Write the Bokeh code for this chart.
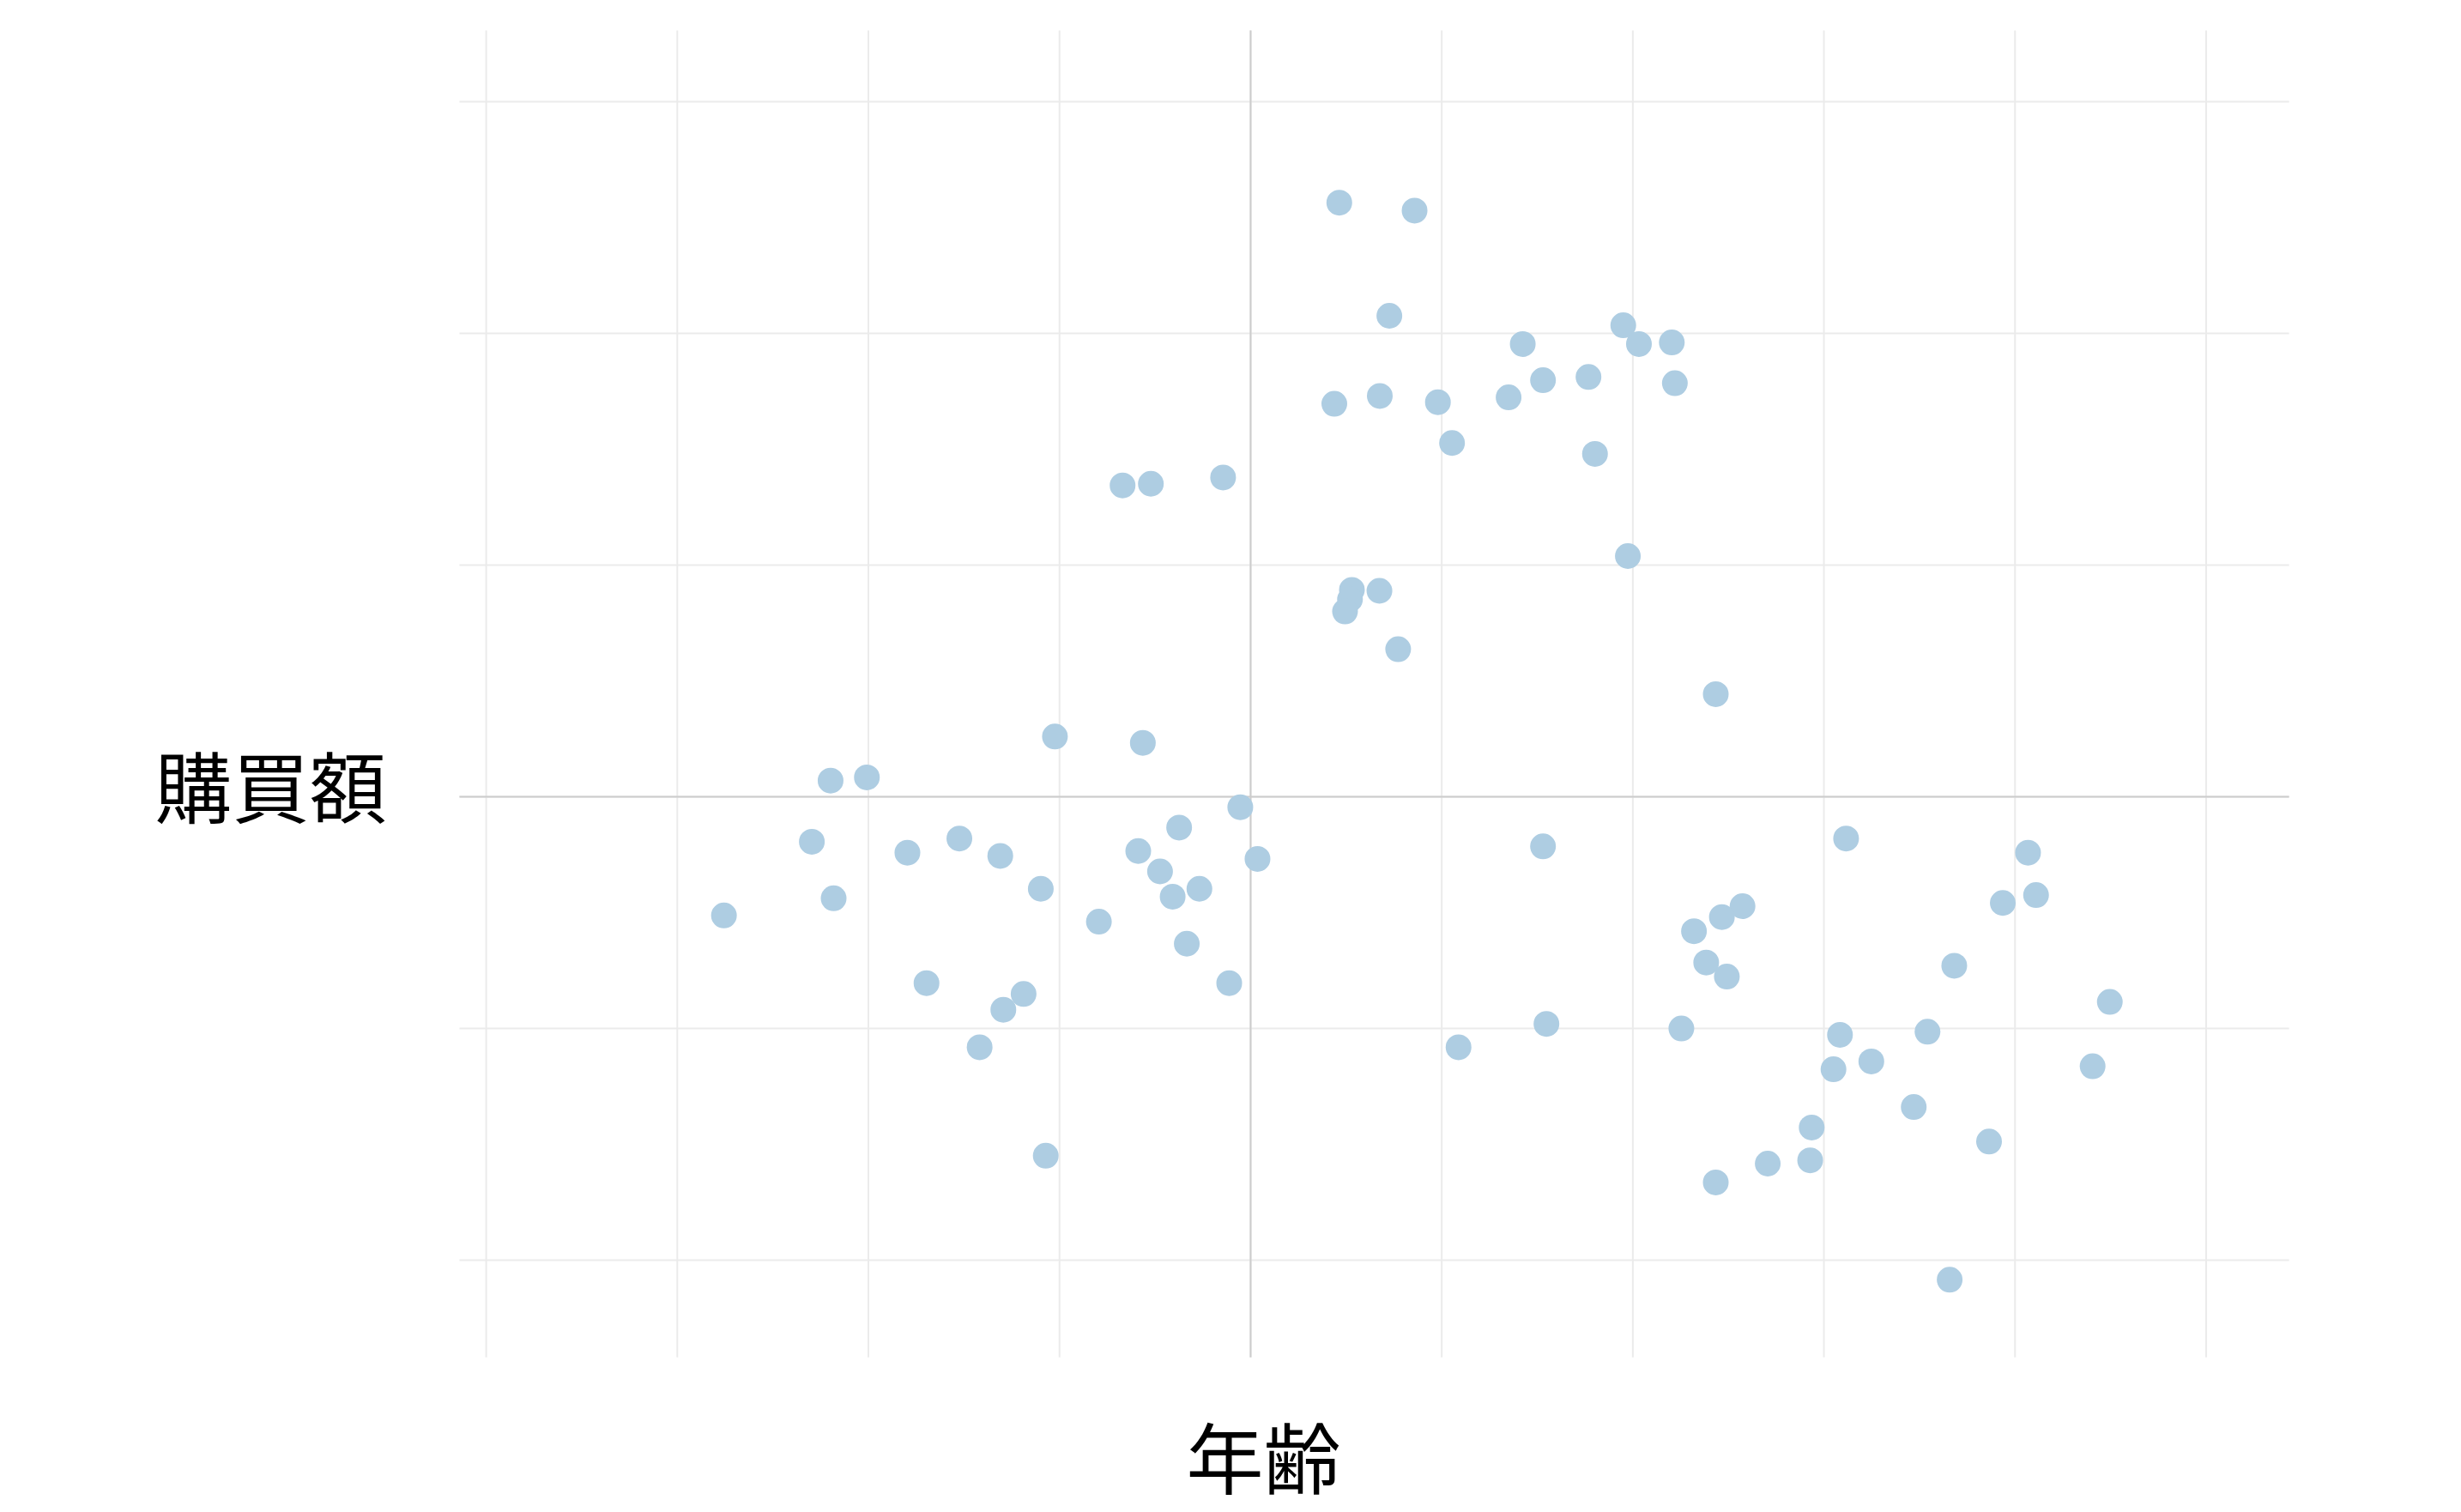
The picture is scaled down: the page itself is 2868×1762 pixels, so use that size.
from bokeh.plotting import figure
from bokeh.models import Range1d
from bokeh.core.properties import value
from bokeh.embed import file_html
from bokeh.resources import INLINE

# standardized age (x) and purchase amount (y)
age = [0.232, 0.429, 0.363, 0.712, 0.975, 1.016, 1.102, 0.765, 0.884, 1.110,
       0.219, 0.338, 0.490, 0.675, 0.527, 0.901, -0.335, -0.261, -0.072, 0.987,
       0.265, 0.260, 0.247, 0.337, 0.386, 1.217, -0.512, -0.282, -1.099, -1.004,
       -0.027, -0.187, -1.148, -0.762, -0.898, -0.655, -0.294, 0.018, -0.237, 0.765,
       1.558, 2.034, -0.549, -0.134, -0.204, -1.091, -1.378, -0.397, 1.287, 1.233,
       1.160, 1.968, 2.055, -0.167, 1.192, 1.246, 1.841, -0.848, -0.056, -0.594,
       -0.647, 2.248, 0.774, 1.127, 1.542, 1.771, -0.709, 0.544, 1.525, 1.624,
       2.203, 1.735, 1.468, 1.932, -0.536, 1.464, 1.353, 1.217, 1.829]
spend = [2.564, 2.530, 2.076, 1.954, 2.035, 1.954, 1.961, 1.798, 1.812, 1.785,
         1.696, 1.730, 1.703, 1.724, 1.527, 1.480, 1.344, 1.351, 1.378, 1.039,
         0.893, 0.852, 0.800, 0.889, 0.637, 0.443, 0.260, 0.233, 0.070, 0.084,
         -0.045, -0.133, -0.194, -0.180, -0.241, -0.255, -0.234, -0.268, -0.322, -0.214,
         -0.180, -0.241, -0.397, -0.397, -0.431, -0.438, -0.512, -0.539, -0.472, -0.519,
         -0.580, -0.458, -0.424, -0.634, -0.715, -0.776, -0.729, -0.804, -0.804, -0.851,
         -0.919, -0.885, -0.980, -1.000, -1.027, -1.014, -1.081, -1.081, -1.176, -1.142,
         -1.163, -1.339, -1.427, -1.488, -1.549, -1.569, -1.583, -1.664, -2.084]

x_ticks = [-2.0, -1.5, -1.0, -0.5, 0.0, 0.5, 1.0, 1.5, 2.0, 2.5]
y_ticks = [-2, -1, 0, 1, 2, 3]
x_label = "年齢"
y_label = "購買額"

# panel limits (data units)
X0, X1 = -2.070, 2.717
Y0, Y1 = -2.419, 3.307

p = figure(width=2860, height=1760, output_backend="svg", toolbar_location=None,
           x_range=Range1d(-3.271, 3.150), y_range=Range1d(-3.081, 3.437),
           min_border=0)
p.xaxis.visible = False
p.yaxis.visible = False
p.grid.visible = False
p.outline_line_color = None
p.background_fill_color = "white"
p.border_fill_color = "white"

# grid lines
p.segment(x0=x_ticks, x1=x_ticks, y0=[Y0] * len(x_ticks), y1=[Y1] * len(x_ticks),
          line_color="#ebebeb", line_width=2)
p.segment(x0=[X0] * len(y_ticks), x1=[X1] * len(y_ticks), y0=y_ticks, y1=y_ticks,
          line_color="#ebebeb", line_width=2)
# zero lines
p.segment(x0=[0], x1=[0], y0=[Y0], y1=[Y1], line_color="#cccccc", line_width=2)
p.segment(x0=[X0], x1=[X1], y0=[0], y1=[0], line_color="#cccccc", line_width=2)

p.scatter(age, spend, size=30, fill_color="#aecde2", line_color=None)

p.text(x=[0.034], y=[-2.840], text=[x_label], text_font=value("Noto Sans CJK JP"),
       text_font_size="90px", text_align="center", text_baseline="middle",
       text_color="black")
p.text(x=[-2.564], y=[0.059], text=[y_label], text_font=value("Noto Sans CJK JP"),
       text_font_size="90px", text_align="center", text_baseline="middle",
       text_color="black")

open("out.html", "w").write(file_html(p, INLINE))
